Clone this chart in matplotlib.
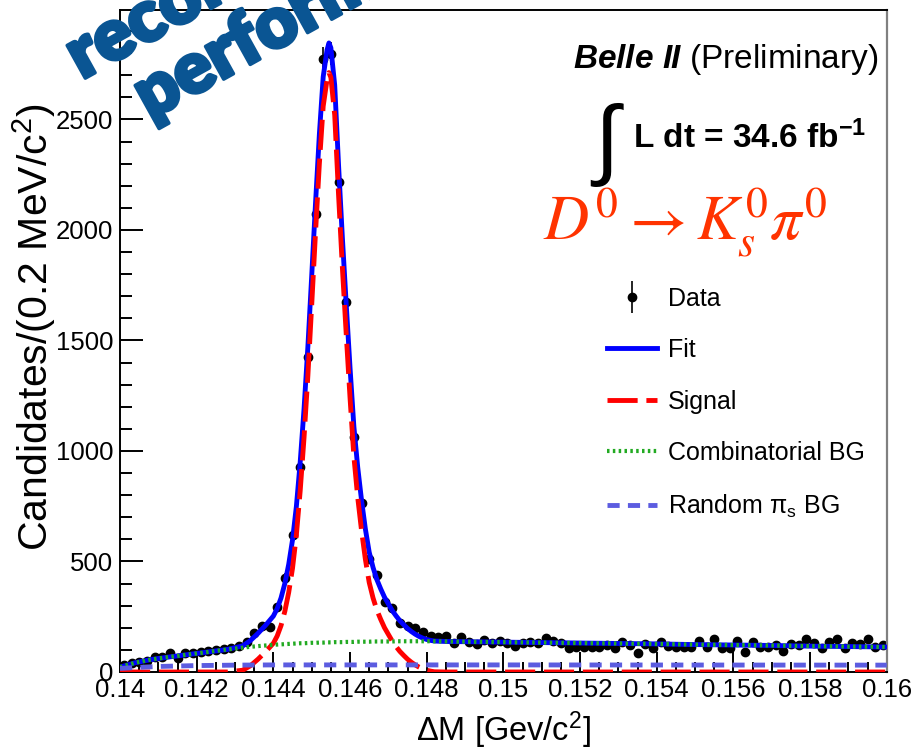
import numpy as np
import matplotlib
matplotlib.use("Agg")
import matplotlib.pyplot as plt
import matplotlib.patheffects as pe
from matplotlib.ticker import MultipleLocator, FuncFormatter
from matplotlib.legend_handler import HandlerErrorbar
from matplotlib.container import ErrorbarContainer

plt.rcParams['font.family'] = ['Liberation Sans', 'DejaVu Sans']
plt.rcParams['mathtext.fontset'] = 'custom'
plt.rcParams['mathtext.rm'] = 'Liberation Sans'
plt.rcParams['mathtext.it'] = 'Liberation Sans:italic'
plt.rcParams['mathtext.bf'] = 'Liberation Sans:bold'
plt.rcParams['mathtext.bfit'] = 'Liberation Sans:italic:bold'

# delta M histogram: 100 bins of 0.2 MeV between 0.140 and 0.160 GeV
dm_lo, dm_hi, n_bins = 0.140, 0.160, 100
counts = [32, 41, 44, 50, 68, 66, 86, 63, 86, 88,
          90, 95, 99, 104, 108, 117, 136, 176, 206, 205,
          292, 425, 619, 926, 1423, 2074, 2775, 2797, 2219, 1672,
          1062, 764, 511, 438, 316, 289, 221, 206, 199, 181,
          163, 158, 163, 131, 158, 136, 127, 145, 131, 140,
          131, 117, 131, 136, 131, 154, 140, 131, 108, 113,
          113, 113, 113, 122, 108, 136, 122, 86, 125, 108,
          136, 117, 113, 113, 113, 140, 113, 149, 108, 108,
          140, 90, 136, 113, 113, 122, 95, 127, 122, 149,
          131, 108, 136, 149, 108, 131, 127, 149, 113, 122]

# fit components sampled along delta M
curve_dm = [0.1400, 0.1404, 0.1408, 0.1412, 0.1416, 0.1420, 0.1424, 0.1428, 0.1432,
            0.1434, 0.1436, 0.1438, 0.1440,
            0.1441, 0.1442, 0.1443, 0.1444, 0.1445, 0.1446, 0.1447, 0.1448, 0.1449,
            0.1450, 0.1451, 0.1452, 0.1453, 0.1454, 0.14545, 0.1455, 0.1456, 0.1457,
            0.1458, 0.1459, 0.1460, 0.1461, 0.1462, 0.1463, 0.1464, 0.1465, 0.1466,
            0.1467, 0.1468, 0.1469, 0.1470, 0.1471, 0.1472, 0.1473, 0.1474, 0.1475,
            0.1476, 0.1477, 0.1478, 0.1479, 0.1480, 0.1481, 0.1482, 0.1485, 0.1490,
            0.1500, 0.1510, 0.1520, 0.1530, 0.1540, 0.1550, 0.1560, 0.1570, 0.1580,
            0.1590, 0.1600]
sig_curve = [0, 0, 0, 0, 0, 0, 0, 0, 8,
             28, 58, 92, 130,
             163, 210, 275, 360, 470, 620, 820, 1060, 1340,
             1660, 1990, 2300, 2560, 2680, 2712, 2690, 2520, 2160,
             1830, 1530, 1240, 975, 790, 640, 510, 405, 335,
             280, 238, 200, 170, 140, 115, 93, 75, 58,
             44, 32, 22, 14, 8, 4, 1, 0, 0,
             0, 0, 0, 0, 0, 0, 0, 0, 0,
             0, 0]
comb_curve = [22, 42, 56, 66, 75, 84, 93, 102, 110,
              114, 117, 120, 123,
              124, 125, 126, 127, 128, 129, 130, 130, 131,
              132, 132, 133, 133, 134, 134, 134, 135, 135,
              135, 136, 136, 136, 137, 137, 137, 137, 138,
              138, 138, 138, 138, 138, 139, 139, 139, 139,
              139, 139, 139, 139, 139, 139, 139, 138, 137,
              135, 133, 131, 129, 127, 124, 122, 120, 117,
              115, 113]
rand_dm = [0.1400, 0.1405, 0.1410, 0.1415, 0.1420, 0.1430, 0.1440, 0.1500, 0.1600]
rand_curve = [16, 21, 25, 27, 29, 31, 32, 32, 31]

edges = np.linspace(dm_lo, dm_hi, n_bins + 1)
centers = 0.5 * (edges[:-1] + edges[1:])
counts = np.array(counts, dtype=float)
sig_curve = np.array(sig_curve, dtype=float)
comb_curve = np.array(comb_curve, dtype=float)
fit_curve = sig_curve + comb_curve

fig = plt.figure(figsize=(9.19, 7.52), dpi=100)
ax = fig.add_axes([0.1306, 0.1064, 0.8343, 0.8803])

data_h = ax.errorbar(centers, counts, yerr=np.sqrt(counts), fmt='o', color='black',
                     ms=6, elinewidth=1.2, capsize=0, zorder=2)
fit_h, = ax.plot(curve_dm, fit_curve, color='#0000ff', lw=3.5, zorder=3)
sig_h, = ax.plot(curve_dm, sig_curve, color='#ff0000', lw=3.5, dashes=(6.2, 1.8), zorder=4)
comb_h, = ax.plot(curve_dm, comb_curve, color='#22aa22', lw=3, dashes=(0.6, 0.8), zorder=5)
rand_h, = ax.plot(rand_dm, rand_curve, color='#5c5ce0', lw=3.5, dashes=(2.5, 1.7), zorder=5)

ax.set_xlim(dm_lo, dm_hi)
ax.set_ylim(0, 2995)

ax.xaxis.set_major_locator(MultipleLocator(0.002))
ax.xaxis.set_minor_locator(MultipleLocator(0.0005))
ax.yaxis.set_major_locator(MultipleLocator(500))
ax.yaxis.set_minor_locator(MultipleLocator(100))
ax.xaxis.set_major_formatter(FuncFormatter(lambda v, p: '%g' % round(v, 4)))
ax.tick_params(which='both', direction='in', top=False, right=False, width=1.4,
               labelsize=18.5)
ax.tick_params(axis='x', which='major', length=14.4, pad=4.5)
ax.tick_params(axis='x', which='minor', length=7.2)
ax.tick_params(axis='y', which='major', length=16.5, pad=5)
ax.tick_params(axis='y', which='minor', length=8.6)

for side in ['left', 'bottom', 'top']:
    ax.spines[side].set_linewidth(1.4)
ax.spines['right'].set_color('#808080')
ax.spines['right'].set_linewidth(1.6)

ax.set_xlabel('ΔM [Gev/c$^{2}$]', fontsize=23.5)
ax.set_ylabel('Candidates/(0.2 MeV/c$^{2}$)', fontsize=29.5)
ax.xaxis.set_label_coords(0.5, -0.057)
ax.yaxis.set_label_coords(-0.081, 0.521)

ax.legend([data_h, fit_h, sig_h, comb_h, rand_h],
          ['Data', 'Fit', 'Signal', 'Combinatorial BG', 'Random $\\mathrm{\\pi}_{\\mathrm{s}}$ BG'],
          handler_map={ErrorbarContainer: HandlerErrorbar(yerr_size=0.65)},
          loc='upper left', bbox_to_anchor=(0.635, 0.582), frameon=False,
          fontsize=18, handlelength=2.0, handletextpad=0.45, labelspacing=1.1,
          borderpad=0, borderaxespad=0)

# labels in the upper right corner
fig.text(878 / 919, 1 - 68 / 752, r'$\mathbfit{Belle\ II}$ (Preliminary)',
         fontsize=24, ha='right', va='baseline')
fig.text(594 / 919, 1 - 168 / 752, '∫', family=['Liberation Sans', 'DejaVu Sans'],
         fontsize=64, ha='left', va='baseline')
fig.text(633 / 919, 1 - 148 / 752, 'L dt = 34.6 fb$^{\\mathbf{-1}}$',
         fontsize=24, fontweight='bold', ha='left', va='baseline')
fig.text(543 / 919, 1 - 240 / 752, r'$D^0 \rightarrow K_s^0\pi^0$', math_fontfamily='stix',
         fontsize=45, color='#ff3300', ha='left', va='baseline')

# slide overlay text
heavy = [pe.withStroke(linewidth=2.5, foreground='#0a5593')]
fig.text(82 / 919, 1 - 80 / 752, 'reconstruction', rotation=29, rotation_mode='anchor',
         ha='left', va='baseline', fontsize=52, fontweight='heavy', family='Lato',
         color='#0a5593', path_effects=heavy)
fig.text(150 / 919, 1 - 120 / 752, 'performance', rotation=29, rotation_mode='anchor',
         ha='left', va='baseline', fontsize=52, fontweight='heavy', family='Lato',
         color='#0a5593', path_effects=heavy)

fig.savefig('out.png', dpi=100)
